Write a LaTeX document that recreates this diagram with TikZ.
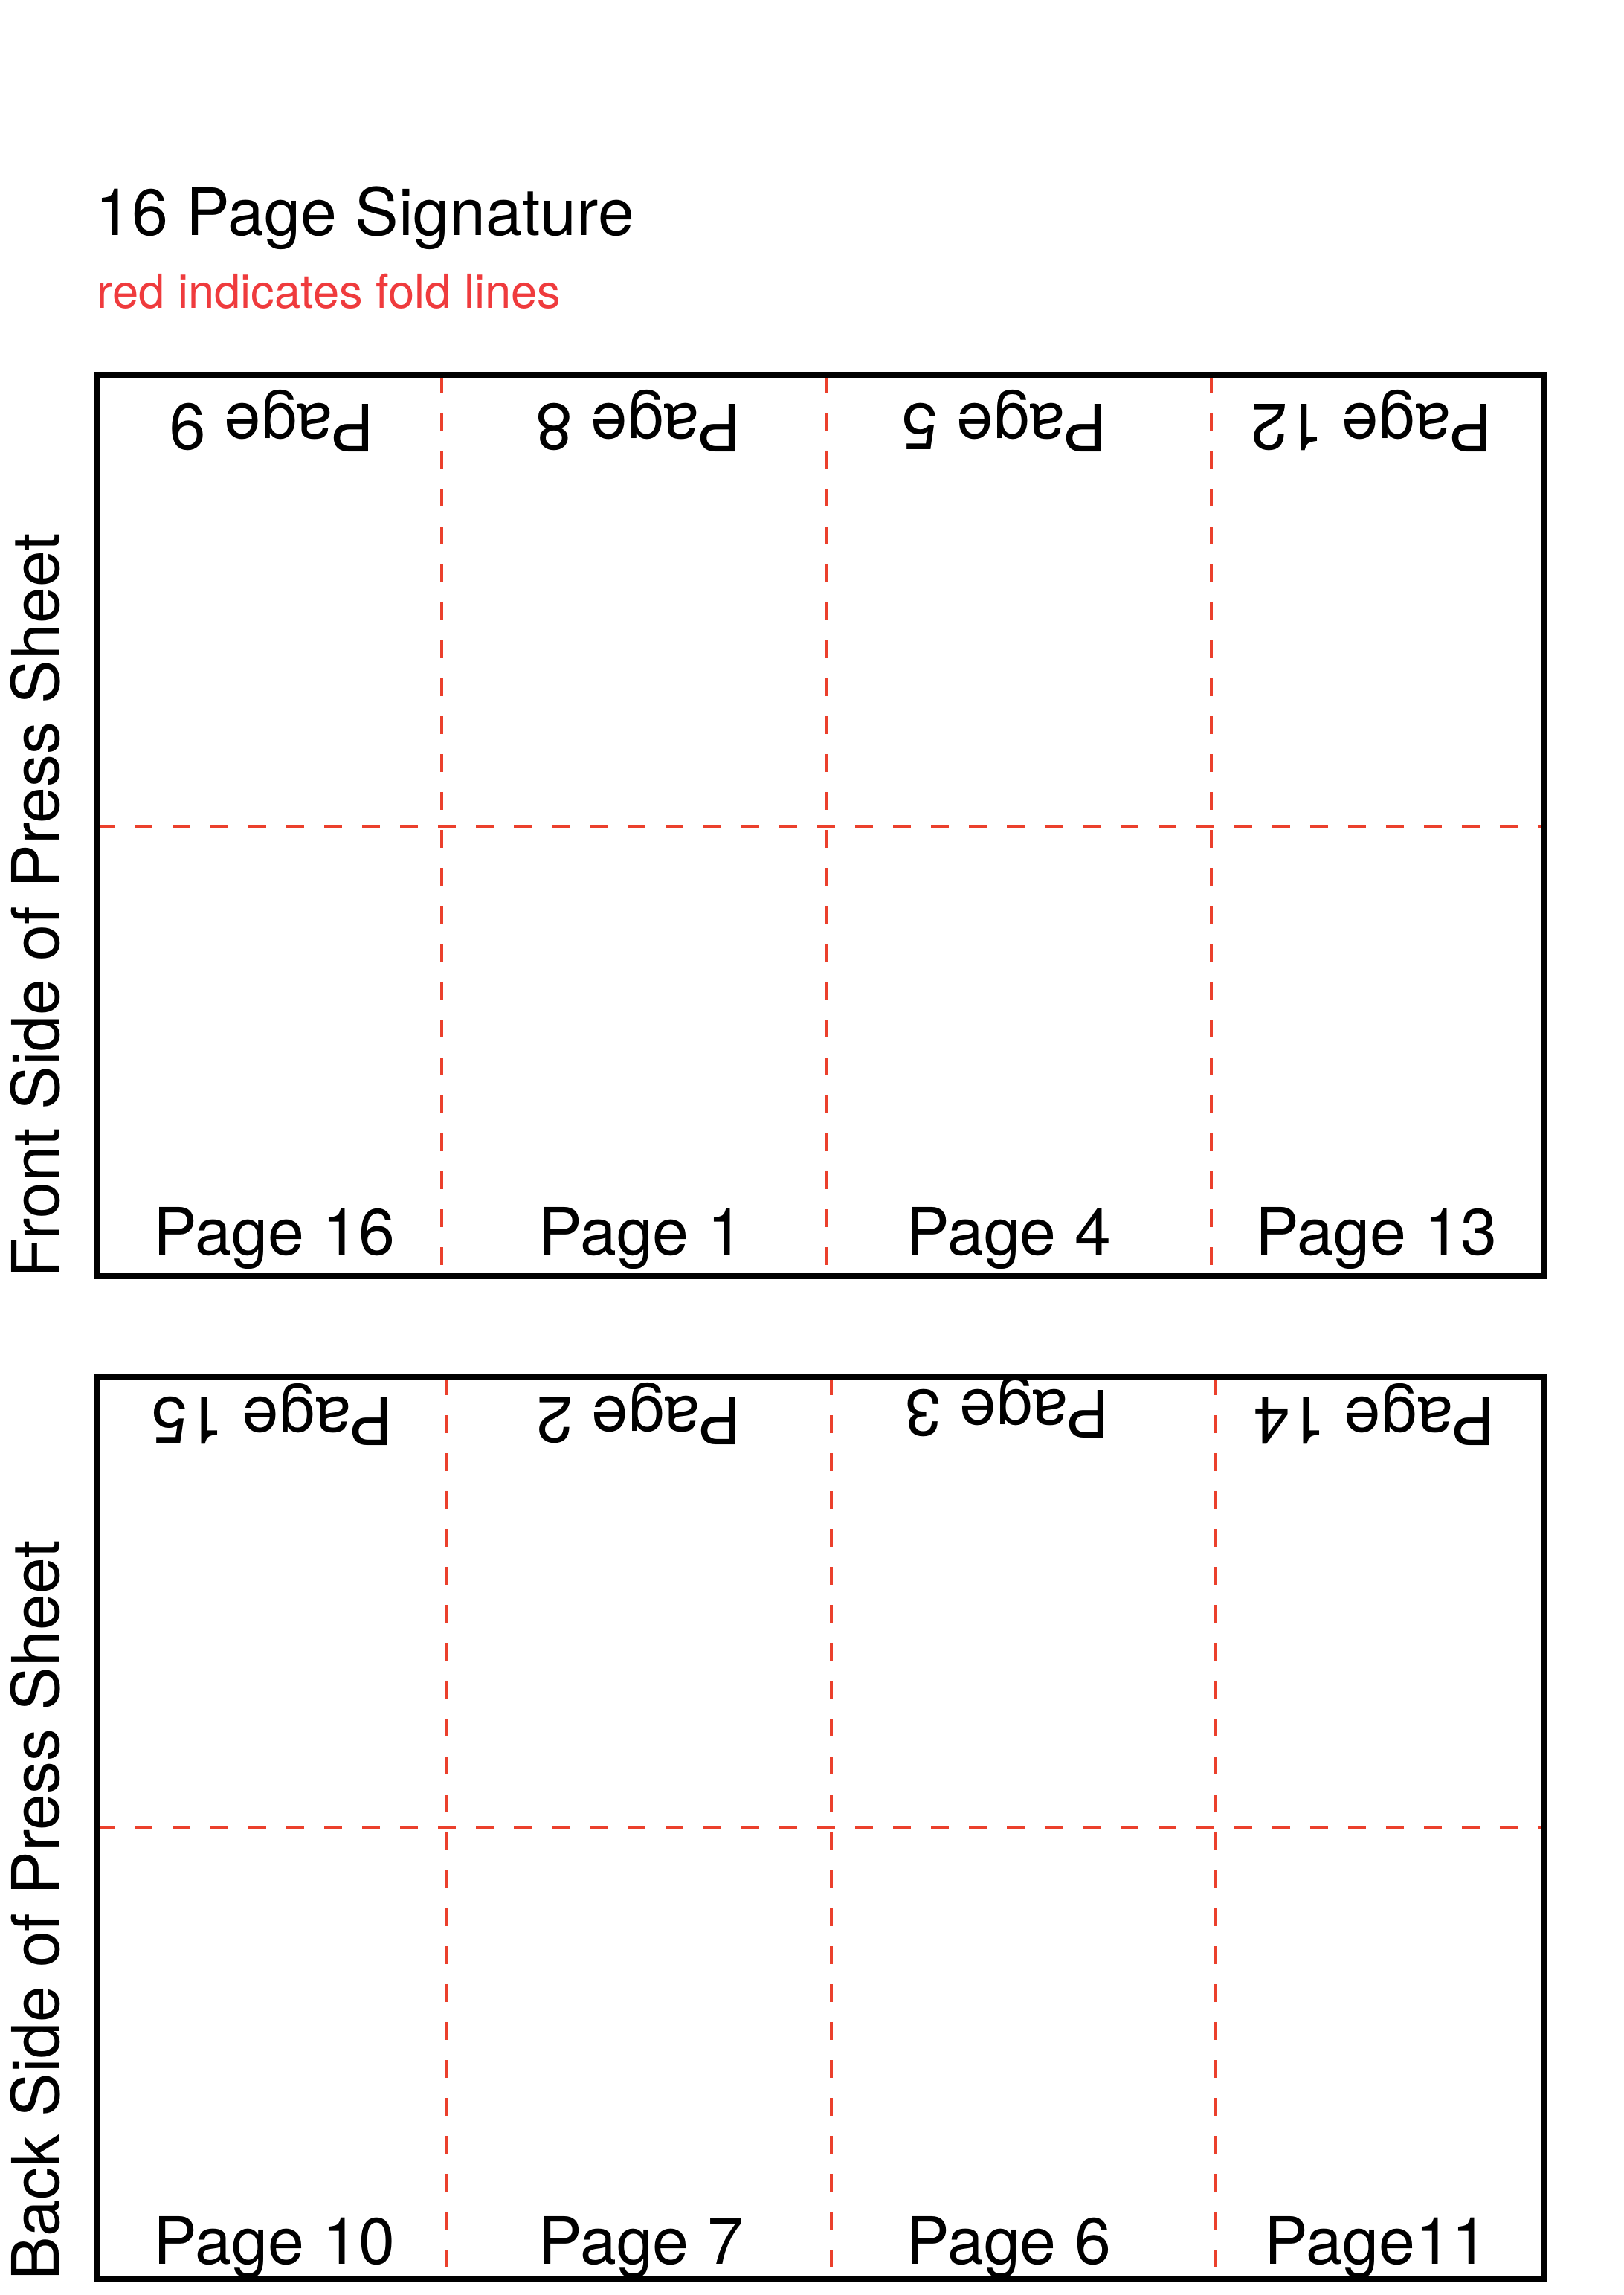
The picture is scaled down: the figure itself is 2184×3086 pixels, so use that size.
\documentclass[tikz,border=0pt]{standalone}
\usepackage{fontspec}
\setmainfont{TeX Gyre Heros}
\definecolor{foldred}{RGB}{235,64,44}
\definecolor{textred}{RGB}{239,59,61}
\begin{document}
\begin{tikzpicture}[x=0.1mm,y=-0.1mm,
  lbl/.style={inner sep=0pt, font=\fontsize{25}{30}\selectfont, anchor=base},
  flip/.style={lbl, rotate=180},
  sheet/.style={draw=black, line width=0.8mm},
  fold/.style={draw=foldred, line width=0.45mm, dash pattern=on 2.4mm off 2.7mm}]
\useasboundingbox (0,0) rectangle (2184,3086);

% ---------- titles ----------
\node[lbl, anchor=base west] (title) at (128,317) {16 Page Signature};
\node[anchor=base west, inner sep=0pt, font=\fontsize{18}{22}\selectfont, text=textred] (note) at (130,414) {red indicates fold lines};

% ---------- front sheet ----------
\coordinate (F1) at (130,504);
\coordinate (F2) at (2076,1716);
\coordinate (Fv1t) at (594,504);  \coordinate (Fv1b) at (594,1716);
\coordinate (Fv2t) at (1112,504); \coordinate (Fv2b) at (1112,1716);
\coordinate (Fv3t) at (1629,504); \coordinate (Fv3b) at (1629,1716);
\coordinate (Fhl) at (130,1112);  \coordinate (Fhr) at (2076,1112);
\draw[fold] (Fv1t) -- (Fv1b);
\draw[fold] (Fv2t) -- (Fv2b);
\draw[fold] (Fv3t) -- (Fv3b);
\draw[fold] (Fhl) -- (Fhr);
\draw[sheet] (F1) rectangle (F2);

\node[flip] (p9)  at (366,543)  {Page 9};
\node[flip] (p8)  at (859,543)  {Page 8};
\node[flip] (p5)  at (1351,543) {Page 5};
\node[flip] (p12) at (1845,543) {Page 12};
\node[lbl] (p16) at (369,1687)  {Page 16};
\node[lbl] (p1)  at (862,1687)  {Page 1};
\node[lbl] (p4)  at (1356,1687) {Page 4};
\node[lbl] (p13) at (1851,1687) {Page 13};

\node[lbl, rotate=90, anchor=base west] (front) at (79,1719) {Front Side of Press Sheet};

% ---------- back sheet ----------
\coordinate (B1) at (130,1852);
\coordinate (B2) at (2076,3064);
\coordinate (Bv1t) at (600,1852);  \coordinate (Bv1b) at (600,3064);
\coordinate (Bv2t) at (1118,1852); \coordinate (Bv2b) at (1118,3064);
\coordinate (Bv3t) at (1635,1852); \coordinate (Bv3b) at (1635,3064);
\coordinate (Bhl) at (130,2458);   \coordinate (Bhr) at (2076,2458);
\draw[fold] (Bv1t) -- (Bv1b);
\draw[fold] (Bv2t) -- (Bv2b);
\draw[fold] (Bv3t) -- (Bv3b);
\draw[fold] (Bhl) -- (Bhr);
\draw[sheet] (B1) rectangle (B2);

\node[flip] (p15) at (366,1879)  {Page 15};
\node[flip] (p2)  at (860,1878)  {Page 2};
\node[flip] (p3)  at (1355,1869) {Page 3};
\node[flip] (p14) at (1848,1879) {Page 14};
\node[lbl] (p10) at (369,3044)  {Page 10};
\node[lbl] (p7)  at (862,3044)  {Page 7};
\node[lbl] (p6)  at (1356,3044) {Page 6};
\node[lbl] (p11) at (1851,3044) {Page11};

\node[lbl, rotate=90, anchor=base west] (back) at (79,3067) {Back Side of Press Sheet};
\end{tikzpicture}
\end{document}
